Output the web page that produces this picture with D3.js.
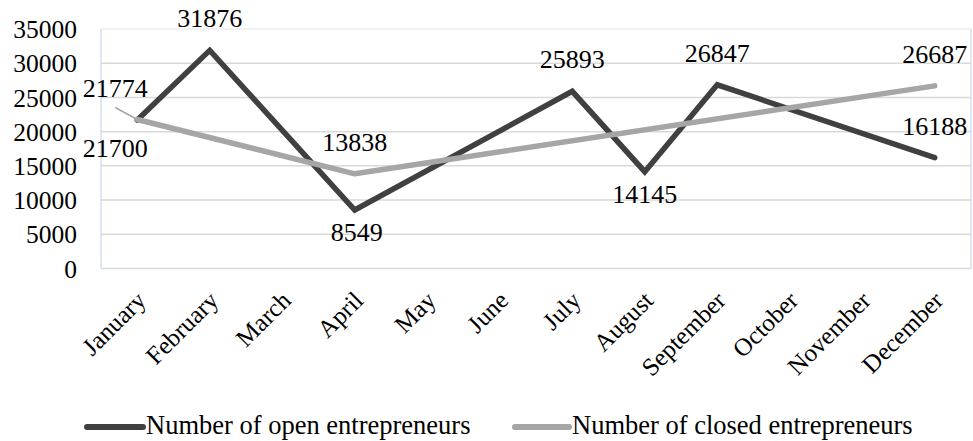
<!DOCTYPE html>
<html>
<head>
<meta charset="utf-8">
<script src="https://cdn.jsdelivr.net/npm/d3@7"></script>
<style>
  html, body { margin: 0; padding: 0; background: #fff; }
  svg { display: block; }
  svg text { font-family: "Liberation Serif", Tinos, "Times New Roman", Times, "DejaVu Serif", serif !important; fill: #000; }
</style>
</head>
<body>
<svg id="chart" width="973" height="441"></svg>
<script>
const months = ["January","February","March","April","May","June","July","August","September","October","November","December"];
const openEntrepreneurs = [21700, 31876, null, 8549, null, null, 25893, 14145, 26847, null, null, 16188];
const closedEntrepreneurs = [21774, null, null, 13838, null, null, null, null, null, null, null, 26687];
const yTicks = [0, 5000, 10000, 15000, 20000, 25000, 30000, 35000];
const seriesNames = ["Number of open entrepreneurs", "Number of closed entrepreneurs"];
const openLabelPos = ["below", "above", null, "below", null, null, "above", "below", "above", null, null, "above"];
const closedLabelPos = ["above", null, null, "above", null, null, null, null, null, null, null, "above"];

const FONT = '"Liberation Serif", Tinos, "Times New Roman", Times, "DejaVu Serif", serif';
const svg = d3.select("#chart");
const plot = { left: 101, right: 971, top: 29, bottom: 268.5 };

const x = d3.scaleBand().domain(months).range([plot.left, plot.right]).padding(0);
const y = d3.scaleLinear().domain([0, 35000]).range([plot.bottom, plot.top]);
const cx = m => x(m) + x.bandwidth() / 2;

svg.append("g").selectAll("line").data(yTicks).join("line")
  .attr("x1", plot.left).attr("x2", plot.right)
  .attr("y1", d => y(d)).attr("y2", d => y(d))
  .attr("stroke", d => d === 35000 ? "#eceef2" : "#d9d9d9")
  .attr("stroke-width", 1.5);

svg.append("line").attr("x1", plot.left).attr("x2", plot.left).attr("y1", plot.top).attr("y2", plot.bottom)
  .attr("stroke", "#c9d7ee").attr("stroke-width", 1.2);
svg.append("line").attr("x1", plot.right).attr("x2", plot.right).attr("y1", plot.top).attr("y2", plot.bottom)
  .attr("stroke", "#c9d7ee").attr("stroke-width", 1.2);

const yAxis = d3.axisLeft(y).tickValues(yTicks).tickSize(0).tickPadding(0).tickFormat(d3.format("d"));
const yg = svg.append("g").attr("transform", `translate(77,0)`).call(yAxis).attr("font-family", FONT);
yg.select(".domain").remove();
yg.selectAll("text").attr("font-size", 25.5).attr("fill", "#000").attr("dy", "0.34em");

const xAxis = d3.axisBottom(x).tickSize(0).tickPadding(0);
const xg = svg.append("g").call(xAxis).attr("font-family", FONT);
xg.select(".domain").remove();
xg.selectAll(".tick").attr("transform", d => `translate(${cx(d) + 10},302)`);
xg.selectAll("text")
  .attr("font-size", 25).attr("fill", "#000")
  .attr("x", 0).attr("y", 0).attr("dy", 0)
  .attr("text-anchor", "end")
  .attr("transform", "rotate(-45)");

const line = d3.line().x(d => cx(d.m)).y(d => y(d.v));
function seriesData(vals) {
  return months.map((m, i) => ({ m, v: vals[i], i })).filter(d => d.v !== null);
}
const closedData = seriesData(closedEntrepreneurs);
const openData = seriesData(openEntrepreneurs);

svg.append("line")
  .attr("x1", cx(months[0]) - 22).attr("y1", y(closedEntrepreneurs[0]) - 12)
  .attr("x2", cx(months[0])).attr("y2", y(closedEntrepreneurs[0]))
  .attr("stroke", "#a6a6a6").attr("stroke-width", 1.5);

svg.append("path").datum(openData).attr("d", line)
  .attr("fill", "none").attr("stroke", "#404040").attr("stroke-width", 5.5)
  .attr("stroke-linejoin", "miter").attr("stroke-linecap", "round");
svg.append("path").datum(closedData).attr("d", line)
  .attr("fill", "none").attr("stroke", "#a6a6a6").attr("stroke-width", 5.5)
  .attr("stroke-linejoin", "round").attr("stroke-linecap", "round");

function labels(data, pos, offsets) {
  svg.append("g").attr("font-family", FONT).selectAll("text").data(data).join("text")
    .attr("x", d => cx(d.m) + (offsets[d.i] ? offsets[d.i][0] : 0))
    .attr("y", d => y(d.v) + (pos[d.i] === "above" ? -23 : 31) + (offsets[d.i] ? offsets[d.i][1] : 0))
    .attr("text-anchor", "middle")
    .attr("font-size", 26)
    .text(d => d.v);
}
labels(openData, openLabelPos, { 0: [-22, 6], 3: [2, 0] });
labels(closedData, closedLabelPos, { 0: [-22, 0] });

const legendItems = [
  { name: seriesNames[0], color: "#404040", x1: 87, x2: 143, tx: 146 },
  { name: seriesNames[1], color: "#a6a6a6", x1: 515, x2: 569, tx: 572 }
];
const lg = svg.append("g").attr("font-family", FONT);
legendItems.forEach(it => {
  lg.append("line").attr("x1", it.x1).attr("x2", it.x2).attr("y1", 427).attr("y2", 427)
    .attr("stroke", it.color).attr("stroke-width", 6).attr("stroke-linecap", "round");
  lg.append("text").attr("x", it.tx).attr("y", 434).attr("font-size", 26.5).text(it.name);
});
</script>
</body>
</html>
